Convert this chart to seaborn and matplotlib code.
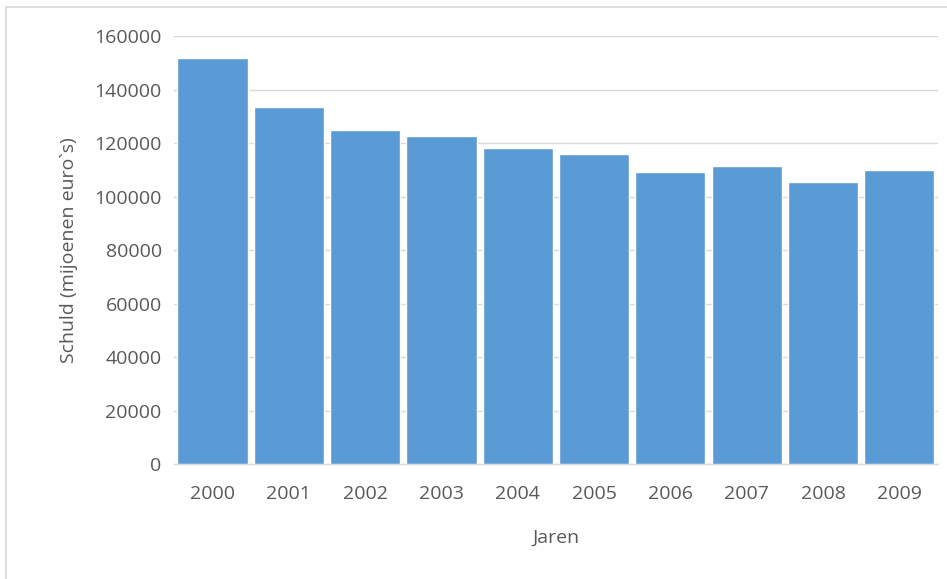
import matplotlib
matplotlib.use("Agg")
import matplotlib.pyplot as plt
from matplotlib.lines import Line2D
import seaborn as sns
import pandas as pd

# Government debt per year (millions of euros)
years = ["2000", "2001", "2002", "2003", "2004", "2005", "2006", "2007", "2008", "2009"]
debt = [151800, 133700, 124800, 122700, 118100, 115900, 109100, 111400, 105400, 109900]
y_ticks = [0, 20000, 40000, 60000, 80000, 100000, 120000, 140000, 160000]

sns.set_theme(style="white")
plt.rcParams["font.family"] = ["Open Sans", "DejaVu Sans"]

df = pd.DataFrame({"Jaren": years, "Schuld": debt})

fig = plt.figure(figsize=(9.47, 5.79), dpi=100)
ax = fig.add_axes([0.184, 0.1986, 0.806, 0.7387])

sns.barplot(data=df, x="Jaren", y="Schuld", color="#5b9bd5", saturation=1,
            width=0.92, ax=ax, zorder=3)

ax.set_ylim(0, 160000)
ax.set_xlim(-0.5, len(years) - 0.5)
ax.set_yticks(y_ticks)
ax.set_yticklabels([str(t) for t in y_ticks])
ax.yaxis.grid(True, color="#d9d9d9", linewidth=1.0, zorder=0)
ax.xaxis.grid(False)

for side in ["top", "right", "left"]:
    ax.spines[side].set_visible(False)
ax.spines["bottom"].set_color("#d9d9d9")
ax.spines["bottom"].set_linewidth(1.0)

ax.tick_params(axis="both", length=0, labelsize=14, labelcolor="#595959")
ax.tick_params(axis="y", pad=9)
ax.tick_params(axis="x", pad=15)

ax.set_xlabel("Jaren", fontsize=14, color="#595959", labelpad=19)
ax.set_ylabel("Schuld (mijoenen euro`s)", fontsize=14, color="#595959", labelpad=12)

# Light chart-area frame along the top and left edges
fig.add_artist(Line2D([0.006, 1.0], [0.988, 0.988], transform=fig.transFigure,
                      color="#d9d9d9", linewidth=1.2))
fig.add_artist(Line2D([0.006, 0.006], [0.0, 0.988], transform=fig.transFigure,
                      color="#d9d9d9", linewidth=1.2))

fig.savefig("out.png", dpi=100, facecolor="white")
